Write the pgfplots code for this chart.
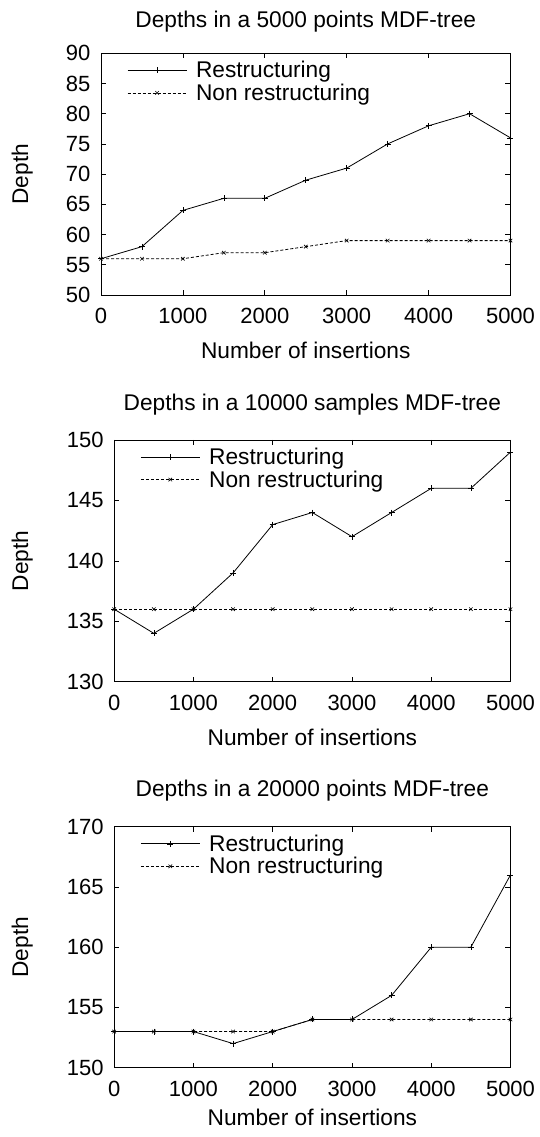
\documentclass[border=0pt]{standalone}
\usepackage{fontspec}
\setmainfont{Liberation Sans}
\usepackage{pgfplots}
\pgfplotsset{compat=1.18}
\pgfplotsset{
  gp/.style={
    scale only axis,
    xmin=0, xmax=5000,
    xtick={0,1000,...,5000},
    scaled x ticks=false, scaled y ticks=false,
    major tick length=5pt,
    tick style={black, line width=0.6pt},
    axis line style={black, line width=0.8pt},
    /pgf/number format/assume math mode=true,
    /pgf/number format/1000 sep={},
    ticklabel style={font=\fontsize{22}{26}\selectfont},
    xticklabel style={yshift=-10pt},
    yticklabel style={xshift=-7pt},
    label style={font=\fontsize{22.7}{27}\selectfont},
    title style={font=\fontsize{22.7}{27}\selectfont, at={(0.5,1)}, anchor=center},
    legend style={draw=none, fill=none, at={(0,1)}, anchor=north west,
      font=\fontsize{22.7}{27}\selectfont, inner sep=0pt, row sep=0.5pt, column sep=7pt,
      xshift=26pt, yshift=-6pt},
    legend cell align=left,
    legend image code/.code={\draw[mark repeat=2,mark phase=2,#1] plot coordinates {(0pt,0pt) (29.5pt,0pt) (59pt,0pt)};},
  },
  rs/.style={black, line width=0.8pt, mark=+, mark size=3pt, mark options={solid, line width=0.6pt}},
  nr/.style={black, line width=0.8pt, dash pattern=on 3pt off 2pt, mark=x, mark size=2.5pt, mark options={solid, line width=0.6pt}},
}
\pgfplotstableread{
x r n
0 56 56
500 58 56
1000 64 56
1500 66 57
2000 66 57
2500 69 58
3000 71 59
3500 75 59
4000 78 59
4500 80 59
5000 76 59
}\tA
\pgfplotstableread{
x r n
0 136 136
500 134 136
1000 136 136
1500 139 136
2000 143 136
2500 144 136
3000 142 136
3500 144 136
4000 146 136
4500 146 136
5000 149 136
}\tB
\pgfplotstableread{
x r n
0 153 153
500 153 153
1000 153 153
1500 152 153
2000 153 153
2500 154 154
3000 154 154
3500 156 154
4000 160 154
4500 160 154
5000 166 154
}\tC
\begin{document}
\begin{tikzpicture}
\path (0,0) rectangle (539pt,1137pt);
\begin{axis}[gp, at={(101pt,842pt)}, anchor=south west, width=409.5pt, height=241.7pt,
  ymin=50, ymax=90, ytick={50,55,...,90},
  title={Depths in a 5000 points MDF-tree}, title style={yshift=26pt},
  xlabel={Number of insertions}, ylabel={Depth},
  xlabel style={at={(axis description cs:0.5,-0.231)}, anchor=center},
  ylabel style={at={(axis description cs:-0.192,0.5)}, anchor=center}]
\addplot[rs] table[x=x,y=r] {\tA};
\addlegendentry{Restructuring}
\addplot[nr] table[x=x,y=n] {\tA};
\addlegendentry{Non restructuring}
\end{axis}
\begin{axis}[gp, at={(114.2pt,455.3pt)}, anchor=south west, width=396.3pt, height=241.7pt,
  ymin=130, ymax=150, ytick={130,135,...,150},
  title={Depths in a 10000 samples MDF-tree}, title style={yshift=29pt},
  xlabel={Number of insertions}, ylabel={Depth},
  xlabel style={at={(axis description cs:0.5,-0.232)}, anchor=center},
  ylabel style={at={(axis description cs:-0.232,0.5)}, anchor=center}]
\addplot[rs] table[x=x,y=r] {\tB};
\addlegendentry{Restructuring}
\addplot[nr] table[x=x,y=n] {\tB};
\addlegendentry{Non restructuring}
\end{axis}
\begin{axis}[gp, at={(114.2pt,69.3pt)}, anchor=south west, width=396.3pt, height=241pt,
  ymin=150, ymax=170, ytick={150,155,...,170},
  title={Depths in a 20000 points MDF-tree}, title style={yshift=30pt},
  xlabel={Number of insertions}, ylabel={Depth},
  xlabel style={at={(axis description cs:0.5,-0.208)}, anchor=center},
  ylabel style={at={(axis description cs:-0.232,0.5)}, anchor=center}]
\addplot[rs] table[x=x,y=r] {\tC};
\addlegendentry{Restructuring}
\addplot[nr] table[x=x,y=n] {\tC};
\addlegendentry{Non restructuring}
\end{axis}
\end{tikzpicture}
\end{document}
